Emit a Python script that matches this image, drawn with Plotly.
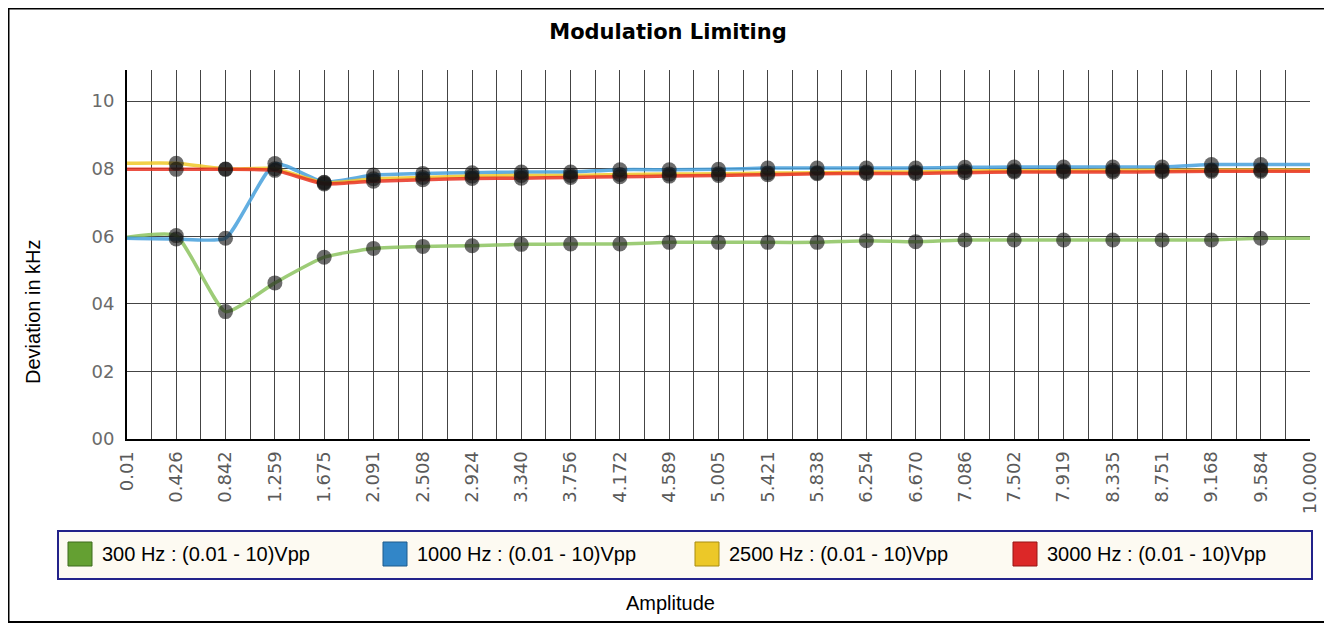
import plotly.graph_objects as go

amplitudes = [0.01, 0.426, 0.842, 1.259, 1.675, 2.091, 2.508, 2.924, 3.340, 3.756,
              4.172, 4.589, 5.005, 5.421, 5.838, 6.254, 6.670, 7.086, 7.502, 7.919,
              8.335, 8.751, 9.168, 9.584, 10.000]
x_labels = ["0.01", "0.426", "0.842", "1.259", "1.675", "2.091", "2.508", "2.924", "3.340",
            "3.756", "4.172", "4.589", "5.005", "5.421", "5.838", "6.254", "6.670", "7.086",
            "7.502", "7.919", "8.335", "8.751", "9.168", "9.584", "10.000"]

hz300 = [5.97, 6.02, 3.77, 4.62, 5.38, 5.64, 5.70, 5.72, 5.76, 5.77, 5.77, 5.82, 5.82,
         5.82, 5.82, 5.87, 5.84, 5.89, 5.89, 5.89, 5.89, 5.89, 5.89, 5.94, 5.94]
hz1000 = [5.94, 5.92, 5.94, 8.15, 7.60, 7.81, 7.86, 7.88, 7.90, 7.90, 7.97, 7.97, 7.98,
          8.02, 8.02, 8.02, 8.02, 8.04, 8.05, 8.05, 8.05, 8.05, 8.12, 8.12, 8.12]
hz2500 = [8.16, 8.16, 7.99, 8.00, 7.58, 7.70, 7.74, 7.78, 7.80, 7.80, 7.83, 7.84, 7.85,
          7.87, 7.88, 7.90, 7.90, 7.93, 7.94, 7.94, 7.95, 7.95, 7.96, 7.96, 7.96]
hz3000 = [7.98, 7.98, 7.98, 7.95, 7.55, 7.63, 7.67, 7.71, 7.72, 7.74, 7.76, 7.78, 7.80,
          7.82, 7.85, 7.86, 7.86, 7.88, 7.90, 7.90, 7.90, 7.91, 7.92, 7.92, 7.92]

series_names = ["300 Hz : (0.01 - 10)Vpp", "1000 Hz : (0.01 - 10)Vpp",
                "2500 Hz : (0.01 - 10)Vpp", "3000 Hz : (0.01 - 10)Vpp"]
series_values = [hz300, hz1000, hz2500, hz3000]
line_colors = ["rgba(140,195,95,0.85)", "rgba(70,160,220,0.85)",
               "rgba(240,200,40,0.85)", "rgba(232,50,35,0.85)"]
swatch_colors = ["#64a032", "#3286c8", "#ecc828", "#dc2828"]
swatch_lines = ["#3c6a1c", "#1c5a8c", "#a88c10", "#961414"]

y_ticks = [0, 2, 4, 6, 8, 10]
y_labels = ["00", "02", "04", "06", "08", "10"]

# page offset (browser body margin)
OFF = 8
W, H = 1332 - OFF, 625 - OFF
L, R, T, B = 127 - OFF, 1310 - OFF, 70 - OFF, 439 - OFF
pw, ph = R - L, B - T


def px(x):
    return (x - OFF - L) / pw


def py(y):
    return (B - (y - OFF)) / ph


fig = go.Figure()

for name, vals, col in zip(series_names, series_values, line_colors):
    fig.add_trace(go.Scatter(x=amplitudes, y=vals, mode="lines", name=name,
                             line=dict(color=col, width=3.5, shape="spline", smoothing=0.5),
                             showlegend=False, hoverinfo="skip"))
for name, vals in zip(series_names, series_values):
    fig.add_trace(go.Scatter(x=amplitudes[1:-1], y=vals[1:-1], mode="markers", name=name,
                             marker=dict(color="rgba(20,20,20,0.62)", size=15),
                             showlegend=False, hoverinfo="skip"))

minor_vals = [(a + b) / 2 for a, b in zip(amplitudes[:-1], amplitudes[1:])]

fig.update_xaxes(range=[amplitudes[0], amplitudes[-1]], tickmode="array",
                 tickvals=amplitudes, ticktext=x_labels, tickangle=-90,
                 tickfont=dict(family="DejaVu Sans", size=18, color="#5a5a5a"),
                 showgrid=True, gridcolor="#444444", gridwidth=1.4,
                 minor=dict(tickmode="array", tickvals=minor_vals, showgrid=True,
                            gridcolor="#444444", gridwidth=1.4),
                 showline=True, linecolor="black", linewidth=2, zeroline=False,
                 ticks="", ticklabelstandoff=3)
fig.update_yaxes(range=[0, 10.92], tickmode="array", tickvals=y_ticks, ticktext=y_labels,
                 tickfont=dict(family="DejaVu Sans", size=18, color="#6a6a6a"),
                 showgrid=True, gridcolor="#444444", gridwidth=1.4,
                 showline=True, linecolor="black", linewidth=2, zeroline=False,
                 ticks="", ticklabelstandoff=7)

fig.add_annotation(text="Deviation in kHz", xref="paper", yref="paper",
                   x=px(33), y=py(312), textangle=-90, showarrow=False,
                   xanchor="center", yanchor="middle",
                   font=dict(family="Liberation Sans", size=20, color="black"))
fig.add_annotation(text="Amplitude", xref="paper", yref="paper",
                   x=px(670), y=py(603), showarrow=False,
                   xanchor="center", yanchor="middle",
                   font=dict(family="Liberation Sans", size=20, color="black"))

# outer frame
fig.add_shape(type="rect", xref="paper", yref="paper",
              x0=px(8.5), x1=px(1325), y0=py(622), y1=py(8.5),
              line=dict(color="black", width=2), layer="below")

# legend box
fig.add_shape(type="rect", xref="paper", yref="paper",
              x0=px(58), x1=px(1312), y0=py(579), y1=py(531),
              line=dict(color="#22228a", width=2), fillcolor="#fdfaf2", layer="below")
legend_x = [68, 383, 695, 1013]
for name, sc, sl, lx in zip(series_names, swatch_colors, swatch_lines, legend_x):
    fig.add_shape(type="rect", xref="paper", yref="paper",
                  x0=px(lx), x1=px(lx + 24), y0=py(566), y1=py(542),
                  line=dict(color=sl, width=1), fillcolor=sc)
    fig.add_annotation(text=name, xref="paper", yref="paper",
                       x=px(lx + 32), y=py(554), xanchor="left", yanchor="middle",
                       showarrow=False,
                       font=dict(family="Liberation Sans", size=20, color="black"))

fig.update_layout(
    width=W, height=H,
    margin=dict(l=L, r=W - R, t=T, b=H - B),
    paper_bgcolor="white", plot_bgcolor="white",
    title=dict(text="<b>Modulation Limiting</b>", xref="container", x=(668 - OFF) / W,
               y=1 - (32 - OFF) / H, yanchor="middle", xanchor="center",
               font=dict(family="DejaVu Sans", size=21, color="black")),
    showlegend=False,
)

fig.write_html("out.html")
